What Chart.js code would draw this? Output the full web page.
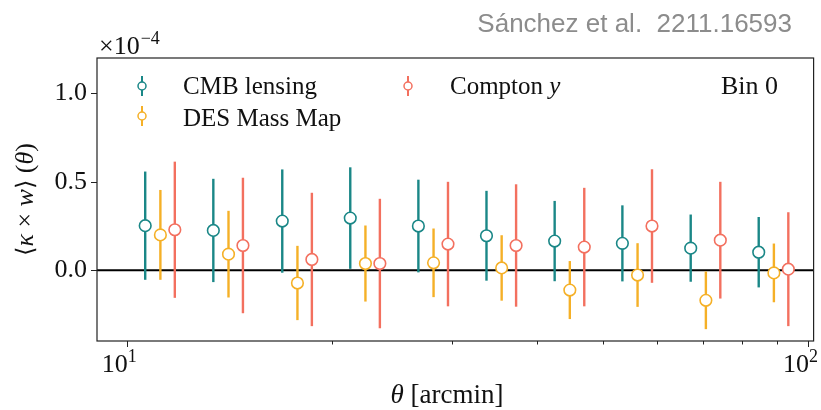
<!DOCTYPE html>
<html>
<head>
<meta charset="utf-8">
<script src="https://cdn.jsdelivr.net/npm/chart.js@4.4.0/dist/chart.umd.min.js"></script>
<style>
  html, body { margin: 0; padding: 0; background: #fff; }
  #wrap { width: 821px; height: 410px; position: relative; }
</style>
</head>
<body>
<div id="wrap"><canvas id="c" width="821" height="410"></canvas></div>
<script>
// angular bin centres (arcmin)
const theta = [11.2, 14.1, 17.8, 22.4, 28.2, 35.5, 44.7, 56.2, 70.8, 89.1];

// <kappa x w>(theta), in units of 1e-4
const cmbVals = [0.252, 0.225, 0.278, 0.295, 0.250, 0.195, 0.165, 0.152, 0.125, 0.102];
const cmbErr  = [0.306, 0.292, 0.292, 0.287, 0.262, 0.254, 0.227, 0.215, 0.190, 0.199];

const desVals = [0.200, 0.091, -0.072, 0.038, 0.042, 0.013, -0.112, -0.027, -0.170, -0.015];
const desErr  = [0.254, 0.245, 0.210, 0.215, 0.194, 0.185, 0.164, 0.180, 0.163, 0.166];

const yVals = [0.229, 0.140, 0.061, 0.038, 0.148, 0.140, 0.131, 0.250, 0.170, 0.006];
const yErr  = [0.385, 0.383, 0.377, 0.366, 0.352, 0.346, 0.335, 0.321, 0.330, 0.322];

const xTicks = [10, 20, 30, 40, 50, 60, 70, 80, 90, 100];
const yTicks = [0, 0.5, 1.0];

const TEAL = '#1a8787';
const GOLD = '#f5b027';
const SALMON = '#f3705f';

const serif = '"Liberation Serif", "DejaVu Serif", serif';

// small horizontal dodge so the three series don't overlap
function series(label, vals, errs, color, dodge) {
  return {
    label: label,
    data: vals.map((v, i) => ({ x: theta[i] * dodge, y: v })),
    errs: errs,
    borderColor: color,
    backgroundColor: '#ffffff',
    pointRadius: 5.8,
    pointHoverRadius: 5.8,
    pointBorderWidth: 1.6,
    showLine: false
  };
}

const datasets = [
  series('CMB lensing', cmbVals, cmbErr, TEAL, 0.95),
  series('DES Mass Map', desVals, desErr, GOLD, 1.0),
  series('Compton y', yVals, yErr, SALMON, 1.05)
];

function drawRuns(ctx, runs, x, y, align) {
  // runs: [text, font]
  let total = 0;
  runs.forEach(r => { ctx.font = r[1]; total += ctx.measureText(r[0]).width; });
  let cx = align === 'center' ? x - total / 2 : x;
  runs.forEach(r => {
    ctx.font = r[1];
    ctx.fillText(r[0], cx, y);
    cx += ctx.measureText(r[0]).width;
  });
}

function legendMarker(ctx, x, y, color) {
  ctx.save();
  ctx.strokeStyle = color;
  ctx.lineWidth = 2;
  ctx.beginPath();
  ctx.moveTo(x, y - 10);
  ctx.lineTo(x, y + 10);
  ctx.stroke();
  ctx.fillStyle = '#fff';
  ctx.lineWidth = 1.5;
  ctx.beginPath();
  ctx.arc(x, y, 4, 0, Math.PI * 2);
  ctx.fill();
  ctx.stroke();
  ctx.restore();
}

const decor = {
  id: 'decor',
  beforeDatasetsDraw(chart) {
    const ctx = chart.ctx;
    const a = chart.chartArea;
    const xs = chart.scales.x, ys = chart.scales.y;
    ctx.save();
    // zero line
    const y0 = ys.getPixelForValue(0);
    ctx.strokeStyle = '#000';
    ctx.lineWidth = 2;
    ctx.beginPath();
    ctx.moveTo(a.left, y0);
    ctx.lineTo(a.right, y0);
    ctx.stroke();
    // error bars
    chart.data.datasets.forEach(ds => {
      ctx.strokeStyle = ds.borderColor;
      ctx.lineWidth = 2.4;
      ds.data.forEach((p, i) => {
        const px = xs.getPixelForValue(p.x);
        ctx.beginPath();
        ctx.moveTo(px, ys.getPixelForValue(p.y + ds.errs[i]));
        ctx.lineTo(px, ys.getPixelForValue(p.y - ds.errs[i]));
        ctx.stroke();
      });
    });
    ctx.restore();
  },
  afterDraw(chart) {
    const ctx = chart.ctx;
    const a = chart.chartArea;
    const xs = chart.scales.x, ys = chart.scales.y;
    ctx.save();
    // frame
    ctx.strokeStyle = '#222';
    ctx.lineWidth = 1.2;
    ctx.strokeRect(a.left, a.top, a.right - a.left, a.bottom - a.top);

    // ticks
    ctx.lineWidth = 1;
    ctx.beginPath();
    xTicks.forEach(v => {
      const px = Math.round(xs.getPixelForValue(v)) + 0.5;
      const len = (v === 10 || v === 100) ? 6 : 3.5;
      ctx.moveTo(px, a.bottom);
      ctx.lineTo(px, a.bottom + len);
    });
    yTicks.forEach(v => {
      const py = Math.round(ys.getPixelForValue(v)) + 0.5;
      ctx.moveTo(a.left, py);
      ctx.lineTo(a.left - 6, py);
    });
    ctx.stroke();

    ctx.fillStyle = '#111';
    ctx.textBaseline = 'alphabetic';
    // x tick labels 10^1, 10^2
    [[10, '1'], [100, '2']].forEach(t => {
      const px = xs.getPixelForValue(t[0]);
      ctx.font = '26px ' + serif;
      ctx.textAlign = 'right';
      ctx.fillText('10', px + 1, 372);
      ctx.font = '18px ' + serif;
      ctx.textAlign = 'left';
      ctx.fillText(t[1], px + 1, 362);
    });

    // x axis title
    ctx.textAlign = 'left';
    drawRuns(ctx, [['θ', 'italic 27px ' + serif], [' [arcmin]', '27px ' + serif]], 447, 403, 'center');

    // y axis title (rotated)
    ctx.save();
    ctx.translate(33, (a.top + a.bottom) / 2);
    ctx.rotate(-Math.PI / 2);
    ctx.textBaseline = 'alphabetic';
    drawRuns(ctx, [
      ['⟨', '24px "DejaVu Serif", serif'],
      ['κ', 'italic 26px ' + serif],
      [' × ', '26px ' + serif],
      ['w', 'italic 26px ' + serif],
      ['⟩', '24px "DejaVu Serif", serif'],
      [' (', '26px ' + serif],
      ['θ', 'italic 26px ' + serif],
      [')', '26px ' + serif]
    ], 0, 0, 'center');
    ctx.restore();

    // offset text x10^-4
    ctx.textAlign = 'left';
    ctx.font = '26px ' + serif;
    ctx.fillText('×10', 99, 54);
    const w10 = ctx.measureText('×10').width;
    ctx.font = '18px ' + serif;
    ctx.fillText('−4', 99 + w10 + 1, 44);

    // legend
    legendMarker(ctx, 142, 86, TEAL);
    legendMarker(ctx, 142, 116, GOLD);
    legendMarker(ctx, 408, 86, SALMON);
    ctx.textBaseline = 'middle';
    ctx.font = '25px ' + serif;
    ctx.fillText('CMB lensing', 183, 87);
    ctx.fillText('DES Mass Map', 183, 119);
    drawRuns(ctx, [['Compton ', '25px ' + serif], ['y', 'italic 25px ' + serif]], 450, 87, 'left');
    ctx.font = '26px ' + serif;
    ctx.fillText('Bin 0', 721, 87);

    // credit line
    ctx.fillStyle = '#8c8c8c';
    ctx.font = '26px "Liberation Sans", Arial, sans-serif';
    ctx.textAlign = 'right';
    ctx.textBaseline = 'alphabetic';
    ctx.fillText('Sánchez et al.  2211.16593', 792, 32);
    ctx.restore();
  }
};

new Chart(document.getElementById('c').getContext('2d'), {
  type: 'scatter',
  data: { datasets: datasets },
  options: {
    responsive: false,
    animation: false,
    devicePixelRatio: 1,
    layout: { padding: { top: 58, right: 1, left: 0, bottom: 0 } },
    plugins: {
      legend: { display: false },
      tooltip: { enabled: false },
      title: { display: false }
    },
    scales: {
      x: {
        type: 'logarithmic',
        min: 9.04,
        max: 101.9,
        afterBuildTicks: s => { s.ticks = xTicks.map(v => ({ value: v })); },
        afterFit: s => { s.height = 69; },
        ticks: { display: false },
        grid: { display: false },
        border: { display: false }
      },
      y: {
        min: -0.4,
        max: 1.2,
        afterBuildTicks: s => { s.ticks = yTicks.map(v => ({ value: v })); },
        afterFit: s => { s.width = 97; },
        ticks: {
          callback: v => v.toFixed(1),
          font: { family: serif, size: 26 },
          color: '#111',
          padding: 4
        },
        grid: { drawOnChartArea: false, tickLength: 6, tickColor: 'rgba(0,0,0,0)' },
        border: { display: false }
      }
    }
  },
  plugins: [decor]
});
</script>
</body>
</html>
